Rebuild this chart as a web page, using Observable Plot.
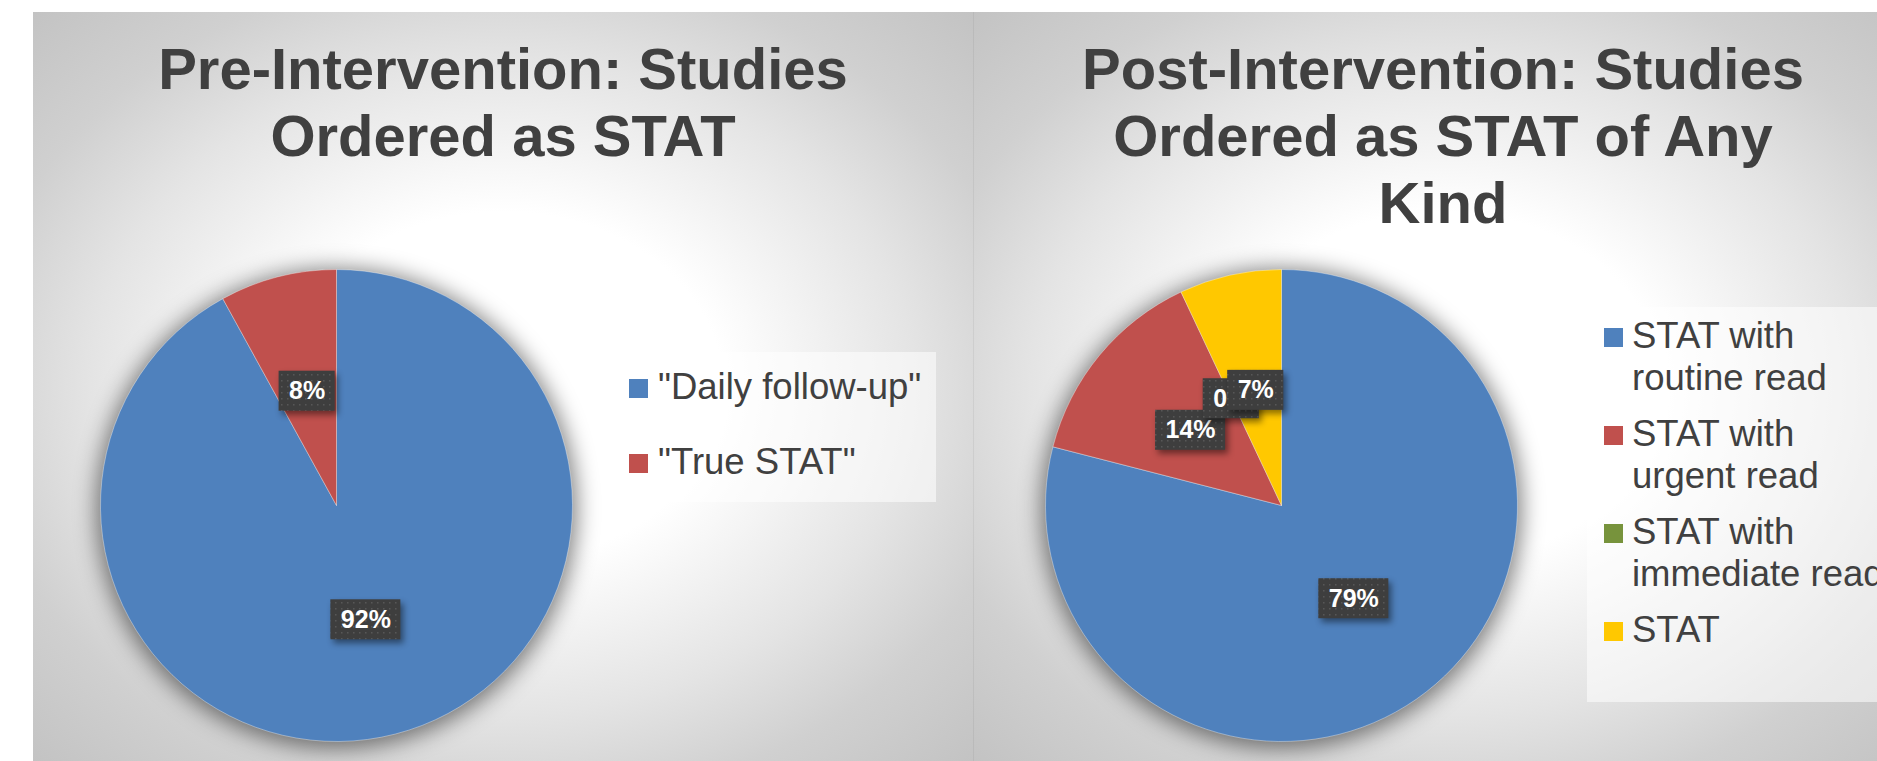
<!DOCTYPE html>
<html>
<head>
<meta charset="utf-8">
<script src="https://cdn.jsdelivr.net/npm/d3@7"></script>
<script src="https://cdn.jsdelivr.net/npm/@observablehq/plot@0.6"></script>
<style>
  html, body { margin: 0; padding: 0; background: #ffffff; }
  body { width: 1877px; height: 761px; overflow: hidden; position: relative;
         font-family: "Liberation Sans", Arial, sans-serif; }
  .panel { position: absolute; top: 12px; width: 940px; height: 749px; overflow: hidden;
           background: radial-gradient(farthest-corner at 50% 50%, #ffffff 0%, #ffffff 33%, #e4e4e4 62%, #d0d0d0 80%, #c3c3c3 100%); }
  .panel.right { box-shadow: inset 1px 0 0 rgba(0,0,0,0.05); }
  .panel svg { position: absolute; left: 0; top: 0; }
  .title { position: absolute; left: 80px; right: 80px; top: 23px; text-align: center;
           font-weight: bold; font-size: 58px; line-height: 67px; color: #404040; }
  .legend { position: absolute; background: rgba(255,255,255,0.55); }
  .item { position: absolute; left: 0; font-size: 36.5px; line-height: 42px; color: #404040; }
  .sw { position: absolute; width: 19px; height: 19px; top: 13px; }
  .txt { position: absolute; top: 0; }
</style>
</head>
<body>
<svg width="0" height="0" style="position:absolute">
  <defs>
    <pattern id="dots" width="6" height="6" patternUnits="userSpaceOnUse">
      <rect width="6" height="6" fill="#3e3e3e"></rect>
      <rect x="2" y="2" width="1.5" height="1.5" fill="#575757"></rect>
    </pattern>
  </defs>
</svg>
<div class="panel left" id="leftPanel" style="left:33px"></div>
<div class="panel right" id="rightPanel" style="left:973px"></div>
<script>
// ---- data ----
const preTitle = "Pre-Intervention: Studies Ordered as STAT";
const preCategories = ['"Daily follow-up"', '"True STAT"'];
const preValues = [92, 8];

const postTitle = "Post-Intervention: Studies Ordered as STAT of Any Kind";
const postCategories = ["STAT with routine read", "STAT with urgent read", "STAT with immediate read", "STAT"];
const postValues = [79, 14, 0, 7];

// ---- styles ----
const preColors = ["#4f81bd", "#c0504d"];
const postColors = ["#4f81bd", "#c0504d", "#77933c", "#ffc800"];

const ctx = document.createElement("canvas").getContext("2d");
function measure(text, font) { ctx.font = font; return ctx.measureText(text).width; }
const labelFont = 'bold 25px "Liberation Sans", Arial, sans-serif';

// wedge symbol: the dot's size (area) gives the radius, angles come from d3.pie
function wedgeSymbol(a0, a1) {
  return {
    draw(context, size) {
      const r = Math.sqrt(size / Math.PI);
      context.moveTo(0, 0);
      context.lineTo(r * Math.sin(a0), -r * Math.cos(a0));
      context.arc(0, 0, r, a0 - Math.PI / 2, a1 - Math.PI / 2, false);
      context.closePath();
    }
  };
}

function pieChart({categories, values, colors, cx, cy, R}) {
  const data = categories.map((c, i) => ({category: c, value: values[i]}));
  const arcs = d3.pie().sort(null).value(d => d.value)(data);
  const center = [{x: 0, y: 0}];
  const marks = [];
  // soft shadow behind the pie
  marks.push(Plot.dot(center, {x: "x", y: "y", r: R + 4, fill: "#000", fillOpacity: 0.5, stroke: "none", dy: 3}));
  arcs.forEach((a, i) => {
    if (a.endAngle - a.startAngle <= 0) return;
    marks.push(Plot.dot(center, {x: "x", y: "y", r: R, symbol: wedgeSymbol(a.startAngle, a.endAngle),
                                 fill: colors[i], stroke: "#ffffff", strokeOpacity: 0.45, strokeWidth: 0.8}));
  });
  const labels = arcs.map(a => {
    const m = (a.startAngle + a.endAngle) / 2;
    const text = `${a.data.value}%`;
    const w = measure(text, labelFont);
    return {text, x: 0.5 * Math.sin(m), y: 0.5 * Math.cos(m), hw: (w / 2 + 10) / R, hh: 20 / R};
  });
  const boxIdx = [];
  labels.forEach(l => {
    boxIdx.push(marks.length);
    marks.push(Plot.rect([l], {x1: d => d.x - d.hw, x2: d => d.x + d.hw, y1: d => d.y - d.hh, y2: d => d.y + d.hh,
                               fill: "url(#dots)"}));
    marks.push(Plot.text([l], {x: "x", y: "y", text: "text", fill: "white", fontWeight: "bold", fontSize: 25}));
  });
  const svg = Plot.plot({
    width: 940, height: 749, margin: 0,
    style: {background: "transparent", overflow: "visible", fontFamily: '"Liberation Sans", Arial, sans-serif'},
    x: {domain: [-1, 1], range: [cx - R, cx + R], axis: null},
    y: {domain: [-1, 1], range: [cy + R, cy - R], axis: null},
    marks
  });
  const groups = Array.from(svg.children).filter(e => e.tagName.toLowerCase() === "g");
  if (groups.length === marks.length) {
    groups[0].setAttribute("style", "filter: blur(11px)");
    boxIdx.forEach(k => groups[k].setAttribute("style", "filter: drop-shadow(3px 4px 3px rgba(0,0,0,0.45))"));
  }
  return svg;
}

function buildPanel(panel, {title, categories, values, colors, cx, cy, R, legend}) {
  panel.appendChild(pieChart({categories, values, colors, cx, cy, R}));
  const t = document.createElement("div");
  t.className = "title";
  t.textContent = title;
  panel.appendChild(t);
  const lg = document.createElement("div");
  lg.className = "legend";
  Object.assign(lg.style, {left: legend.left + "px", top: legend.top + "px", width: legend.width + "px", height: legend.height + "px"});
  categories.forEach((c, i) => {
    const it = document.createElement("div");
    it.className = "item";
    it.style.top = (legend.first + i * legend.step) + "px";
    const sw = document.createElement("div");
    sw.className = "sw";
    sw.style.left = legend.swLeft + "px";
    sw.style.background = colors[i];
    const tx = document.createElement("div");
    tx.className = "txt";
    tx.style.left = legend.txLeft + "px";
    tx.style.width = legend.txWidth + "px";
    tx.textContent = c;
    it.appendChild(sw); it.appendChild(tx);
    lg.appendChild(it);
  });
  panel.appendChild(lg);
}

buildPanel(document.getElementById("leftPanel"), {
  title: preTitle, categories: preCategories, values: preValues, colors: preColors,
  cx: 303, cy: 493, R: 236,
  legend: {left: 583, top: 340, width: 320, height: 150, first: 14, step: 75, swLeft: 13, txLeft: 42, txWidth: 300}
});
buildPanel(document.getElementById("rightPanel"), {
  title: postTitle, categories: postCategories, values: postValues, colors: postColors,
  cx: 308, cy: 493, R: 236,
  legend: {left: 614, top: 295, width: 330, height: 395, first: 8, step: 98, swLeft: 17, txLeft: 45, txWidth: 268}
});
</script>
</body>
</html>
